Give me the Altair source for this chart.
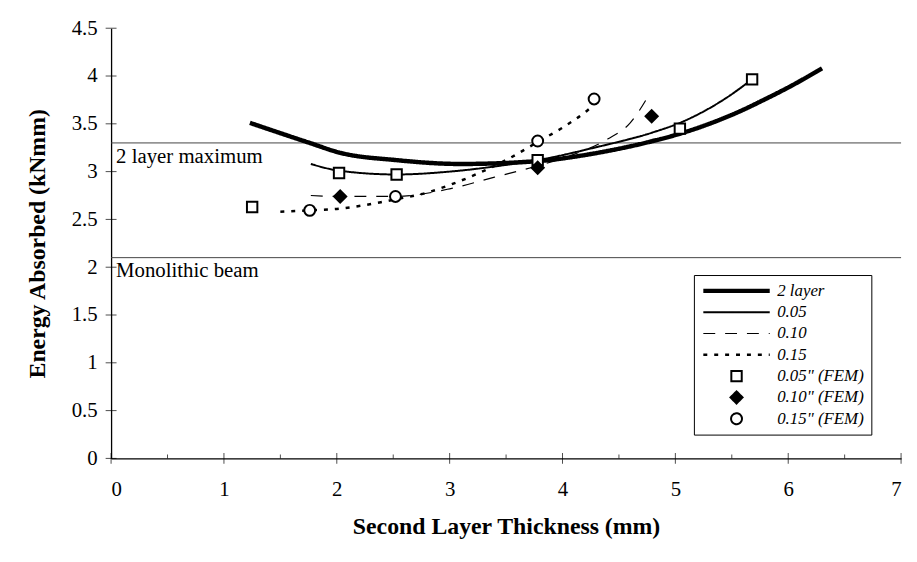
import altair as alt
import pandas as pd

FONT = "Liberation Serif"

ORDER = ["2 layer", "0.05", "0.10", "0.15", '0.05" (FEM)', '0.10" (FEM)', '0.15" (FEM)']

# fitted curves
x_2layer = [1.23, 1.76, 2.02, 2.53, 3.1, 3.78, 4.28, 4.8, 5.05, 5.3, 5.57, 5.8, 6.0, 6.3]
y_2layer = [3.51, 3.30, 3.20, 3.12, 3.08, 3.11, 3.19, 3.32, 3.40, 3.50, 3.63, 3.76, 3.88, 4.08]
x_005 = [1.77, 2.02, 2.53, 3.0, 3.5, 3.78, 4.28, 4.8, 5.04, 5.45, 5.68]
y_005 = [3.08, 3.01, 2.97, 3.0, 3.07, 3.12, 3.25, 3.41, 3.51, 3.77, 3.965]
x_010 = [1.77, 2.03, 2.52, 3.0, 3.39, 3.78, 4.1, 4.4, 4.6, 4.78]
y_010 = [2.75, 2.74, 2.74, 2.82, 2.94, 3.06, 3.18, 3.34, 3.51, 3.83]
x_015 = [1.5, 1.76, 2.0, 2.39, 2.52, 2.8, 3.0, 3.25, 3.53, 3.78, 4.0, 4.22, 4.27]
y_015 = [2.58, 2.595, 2.61, 2.68, 2.71, 2.78, 2.86, 2.98, 3.14, 3.31, 3.46, 3.64, 3.69]

# FEM points
x_fem005 = [1.25, 2.02, 2.53, 3.78, 5.04, 5.68]
y_fem005 = [2.63, 2.985, 2.97, 3.12, 3.45, 3.965]
x_fem010 = [2.03, 3.78, 4.79]
y_fem010 = [2.74, 3.04, 3.58]
x_fem015 = [1.76, 2.52, 3.78, 4.28]
y_fem015 = [2.595, 2.74, 3.32, 3.76]

# reference levels
ref_values = [3.3, 2.1]
ref_labels = ["2 layer maximum", "Monolithic beam"]

# ticks
y_ticks = [0, 0.5, 1, 1.5, 2, 2.5, 3, 3.5, 4, 4.5]
x_major = [0, 1, 2, 3, 4, 5, 6, 7]
x_minor = [0.5, 1.5, 2.5, 3.5, 4.5, 5.5, 6.5]

# styles
DASHES = [[1, 0], [1, 0], [12, 10], [4, 7], [1, 0], [1, 0], [1, 0]]
WIDTHS = [4.5, 2, 1.2, 2.5, 2, 2, 2]
SHAPES = ["stroke", "stroke", "stroke", "stroke", "square", "diamond", "circle"]
FILLS = ["white", "white", "white", "white", "white", "black", "white"]
STROKES = ["black"] * 7
SIZES = [4489, 4489, 4489, 4489, 110, 150, 121]

rows = []
for name, xs, ys in [("2 layer", x_2layer, y_2layer), ("0.05", x_005, y_005),
                     ("0.10", x_010, y_010), ("0.15", x_015, y_015)]:
    for a, b in zip(xs, ys):
        rows.append({"x": a, "y": b, "series": name})
lines_df = pd.DataFrame(rows)

rows = []
for name, xs, ys in [('0.05" (FEM)', x_fem005, y_fem005), ('0.10" (FEM)', x_fem010, y_fem010),
                     ('0.15" (FEM)', x_fem015, y_fem015)]:
    for a, b in zip(xs, ys):
        rows.append({"x": a, "y": b, "series": name})
points_df = pd.DataFrame(rows)

ref_df = pd.DataFrame({"value": ref_values, "label": ref_labels})

x_scale = alt.Scale(domain=[0, 7], nice=False, zero=False)
y_scale = alt.Scale(domain=[0, 4.5], nice=False)

x_axis = alt.Axis(values=x_major, format="d", ticks=False, grid=False,
                  labelFont=FONT, labelFontSize=21, labelColor="black", labelPadding=20,
                  title="Second Layer Thickness (mm)", titleFont=FONT, titleFontSize=24,
                  titleFontWeight="bold", titleColor="black", titlePadding=16,
                  domainColor="black", domainWidth=1.3)
y_axis = alt.Axis(values=y_ticks, format="~g", ticks=False, grid=False,
                  labelFont=FONT, labelFontSize=21, labelColor="black", labelPadding=14,
                  title="Energy Absorbed (kNmm)", titleFont=FONT, titleFontSize=24,
                  titleFontWeight="bold", titleColor="black", titlePadding=22,
                  domainColor="black", domainWidth=1.3)

leg = alt.Legend(title=None, orient="none", legendX=588, legendY=249,
                 strokeColor="black", fillColor="white", padding=7,
                 labelFont=FONT, labelFontStyle="italic", labelFontSize=17,
                 labelColor="black", labelOffset=5, clipHeight=18, rowPadding=3.5)

scale_dash = alt.Scale(domain=ORDER, range=DASHES)
scale_width = alt.Scale(type="ordinal", domain=ORDER, range=WIDTHS)
scale_shape = alt.Scale(domain=ORDER, range=SHAPES)
scale_fill = alt.Scale(domain=ORDER, range=FILLS)
scale_stroke = alt.Scale(domain=ORDER, range=STROKES)
scale_size = alt.Scale(type="ordinal", domain=ORDER, range=SIZES)

rules = alt.Chart(ref_df).mark_rule(color="#444", strokeWidth=1).encode(
    y=alt.Y("value:Q", scale=y_scale, axis=y_axis)
)
texts = alt.Chart(ref_df).mark_text(
    align="left", baseline="alphabetic", dx=5, dy=20, font=FONT, fontSize=21, color="black"
).encode(x=alt.value(0), y=alt.Y("value:Q", scale=y_scale), text="label:N")

lines = alt.Chart(lines_df).mark_line(interpolate="monotone").encode(
    x=alt.X("x:Q", scale=x_scale, axis=x_axis),
    y=alt.Y("y:Q", scale=y_scale, axis=y_axis),
    stroke=alt.Stroke("series:N", scale=scale_stroke, legend=leg),
    strokeDash=alt.StrokeDash("series:N", scale=scale_dash, legend=leg),
    strokeWidth=alt.StrokeWidth("series:N", scale=scale_width, legend=leg),
)

points = alt.Chart(points_df).mark_point(filled=True, strokeWidth=2, opacity=1).encode(
    x=alt.X("x:Q", scale=x_scale),
    y=alt.Y("y:Q", scale=y_scale),
    stroke=alt.Stroke("series:N", scale=scale_stroke, legend=leg),
    shape=alt.Shape("series:N", scale=scale_shape, legend=leg),
    fill=alt.Fill("series:N", scale=scale_fill, legend=leg),
    size=alt.Size("series:N", scale=scale_size, legend=leg),
)

yt = alt.Chart(pd.DataFrame({"v": y_ticks})).mark_tick(
    orient="horizontal", size=11, thickness=1, color="black"
).encode(x=alt.datum(0), y=alt.Y("v:Q", scale=y_scale))
xt = alt.Chart(pd.DataFrame({"v": x_major})).mark_tick(
    orient="vertical", size=11, thickness=1, color="black"
).encode(x=alt.X("v:Q", scale=x_scale), y=alt.datum(0))
xtm = alt.Chart(pd.DataFrame({"v": x_minor})).mark_tick(
    orient="vertical", size=4, thickness=1, color="black", yOffset=-2
).encode(x=alt.X("v:Q", scale=x_scale), y=alt.datum(0))

chart = alt.layer(rules, texts, lines, points, yt, xt, xtm).properties(
    width=797, height=434,
    padding={"left": 104, "top": 18, "right": 8, "bottom": 88},
    autosize=alt.AutoSizeParams(type="none"),
    background="white",
).configure_view(strokeWidth=0)

chart.save("out.html", embed_options={"renderer": "svg", "actions": False})
